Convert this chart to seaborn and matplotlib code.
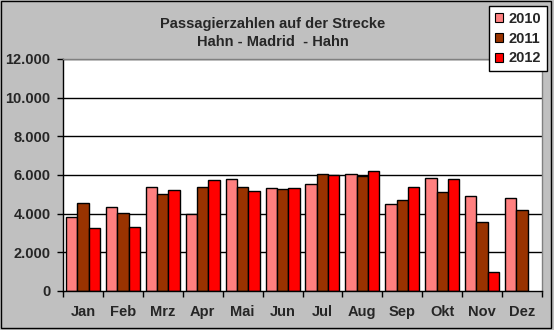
import matplotlib
matplotlib.use("Agg")
import matplotlib.pyplot as plt
import matplotlib.patches as mpatches
from matplotlib.ticker import FuncFormatter, FixedLocator
import seaborn as sns
import pandas as pd

months = ["Jan", "Feb", "Mrz", "Apr", "Mai", "Jun", "Jul", "Aug", "Sep", "Okt", "Nov", "Dez"]
years = ["2010", "2011", "2012"]
v2010 = [3850, 4360, 5390, 4000, 5800, 5340, 5550, 6060, 4520, 5860, 4930, 4830]
v2011 = [4570, 4050, 5030, 5390, 5390, 5290, 6060, 5960, 4720, 5130, 3590, 4210]
v2012 = [3280, 3330, 5240, 5750, 5190, 5340, 6010, 6220, 5390, 5800, 960, None]
colors = ["#FF8080", "#993300", "#FF0000"]

rows = []
for y, vals in zip(years, [v2010, v2011, v2012]):
    for m, v in zip(months, vals):
        if v is not None:
            rows.append({"Monat": m, "Jahr": y, "Passagiere": v})
df = pd.DataFrame(rows)

sns.set_style("white")
plt.rcParams["font.family"] = ["Liberation Sans", "DejaVu Sans"]
plt.rcParams["font.weight"] = "bold"

W, H = 554, 330
fig = plt.figure(figsize=(W / 100, H / 100), dpi=100, facecolor="#C0C0C0")
ax = fig.add_axes([63 / W, 1 - 291 / H, (542 - 63) / W, (291 - 59) / H])
ax.set_facecolor("white")

for g in range(2000, 12001, 2000):
    ax.axhline(g, color="black", lw=1, zorder=0)

sns.barplot(data=df, x="Monat", y="Passagiere", hue="Jahr", order=months,
            hue_order=years, palette=colors, width=0.85, edgecolor="black",
            linewidth=1, saturation=1, ax=ax, legend=True, zorder=2)

ax.set_xlim(-0.5, 11.5)
ax.set_ylim(0, 12000)
ax.set_yticks(range(0, 12001, 2000))
ax.yaxis.set_major_formatter(FuncFormatter(lambda v, p: f"{int(v):,}".replace(",", ".")))
ax.set_xlabel("")
ax.set_ylabel("")

ax.xaxis.set_minor_locator(FixedLocator([i - 0.5 for i in range(13)]))
ax.tick_params(axis="x", which="major", length=0, pad=10, labelsize=10.5)
ax.tick_params(axis="x", which="minor", length=4, width=1, color="black", direction="out", bottom=True)
ax.tick_params(axis="y", which="major", length=4, width=1, color="black", direction="out", left=True, pad=5, labelsize=10.5)
for lab in ax.get_xticklabels() + ax.get_yticklabels():
    lab.set_fontweight("bold")

for s in ["left", "bottom"]:
    ax.spines[s].set_color("black")
    ax.spines[s].set_linewidth(1)
for s in ["top", "right"]:
    ax.spines[s].set_color("#808080")
    ax.spines[s].set_linewidth(1)

fig.text(273 / W, 1 - 24 / H, "Passagierzahlen auf der Strecke", ha="center", va="center",
         fontsize=10.5, fontweight="bold")
fig.text(273 / W, 1 - 42.5 / H, "Hahn - Madrid  - Hahn", ha="center", va="center",
         fontsize=10.5, fontweight="bold")

handles = [mpatches.Patch(facecolor=c, edgecolor="black", linewidth=0.8, label=y) for c, y in zip(colors, years)]
leg = ax.legend(handles=handles, loc="upper right", bbox_to_anchor=(547 / W, 1 - 6 / H),
                bbox_transform=fig.transFigure, frameon=True, fancybox=False,
                edgecolor="black", framealpha=1, prop={"weight": "bold", "size": 10.5},
                handlelength=0.55, handleheight=0.55, handletextpad=0.4,
                labelspacing=0.4, borderpad=0.4, borderaxespad=0)
leg.get_frame().set_linewidth(1)

fig.patches.append(mpatches.Rectangle((0.5 / W, 1 - 327.5 / H), 550 / W, 327 / H,
                                      transform=fig.transFigure, fill=False,
                                      edgecolor="black", linewidth=1))

fig.savefig("out.png", dpi=100, facecolor=fig.get_facecolor())
